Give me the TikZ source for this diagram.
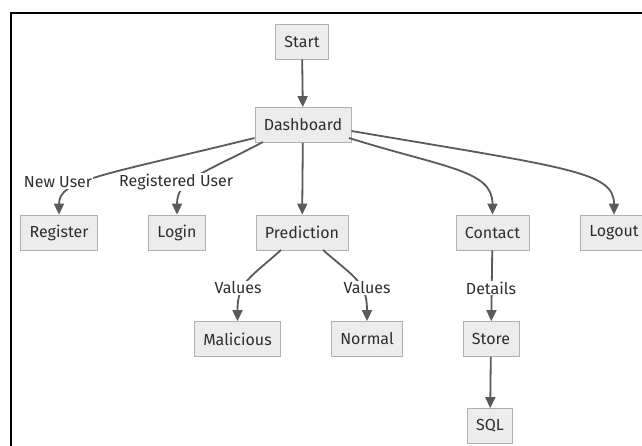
\documentclass[tikz,border=0pt]{standalone}
\usepackage{fontspec}
\setmainfont{Fira Sans}
\usetikzlibrary{arrows.meta}

\definecolor{boxfill}{HTML}{ECECEC}
\definecolor{boxline}{HTML}{B0B0B0}
\definecolor{edgeline}{HTML}{5A5A5A}
\definecolor{textcol}{HTML}{2E2E2E}

\tikzset{
  box/.style={draw=boxline, fill=boxfill, line width=0.8pt, minimum height=35pt,
    inner xsep=9pt, text=textcol, font=\fontsize{16}{19}\selectfont},
  lbl/.style={fill=white, inner sep=1pt, text=textcol, font=\fontsize{16}{19}\selectfont},
  edge/.style={draw=edgeline, line width=1.8pt, -{Triangle[length=11pt,width=10pt]}}
}

\begin{document}
\begin{tikzpicture}[x=1pt,y=-1pt]
\clip (0,0) rectangle (642,445);
\fill[white] (0,0) rectangle (642,445);
\draw[line width=2.5pt] (11,450) -- (11,13) -- (650,13);
% nodes
\node[box] (start) at (302,41.5) {Start};
\node[box] (dash) at (303,125) {Dashboard};
\node[box] (reg) at (59,232.5) {Register};
\node[box] (login) at (177,232.5) {Login};
\node[box] (pred) at (302,232.5) {Prediction};
\node[box] (contact) at (492.5,232.5) {Contact};
\node[box] (logout) at (614,232.5) {Logout};
\node[box] (mal) at (237.5,339) {Malicious};
\node[box] (norm) at (367,339) {Normal};
\node[box] (store) at (491,339) {Store};
\node[box] (sql) at (490,426) {SQL};
% edges
\draw[edge] (start) -- (dash);
\draw[edge] (dash.west |- 0,138) .. controls (100,176) and (59,180) .. (reg.north);
\draw[edge] (263,142) .. controls (200,175) and (177,180) .. (login.north);
\draw[edge] (dash) -- (pred);
\draw[edge] (349,138) .. controls (445,168) and (492.5,170) .. (contact.north);
\draw[edge] (dash.east |- 0,131) .. controls (570,168) and (614,172) .. (logout.north);
\draw[edge] (281,250) .. controls (250,278) and (237.5,282) .. (mal.north);
\draw[edge] (323,250) .. controls (355,278) and (367,282) .. (norm.north);
\draw[edge] (contact) -- (store);
\draw[edge] (store) -- (sql);
% edge labels
\node[lbl] (lnew) at (58,182) {New User};
\node[lbl] (lreg) at (176,182) {Registered User};
\node[lbl] (lval1) at (238,288) {Values};
\node[lbl] (lval2) at (367,288) {Values};
\node[lbl] (ldet) at (491,288) {Details};
\end{tikzpicture}
\end{document}
